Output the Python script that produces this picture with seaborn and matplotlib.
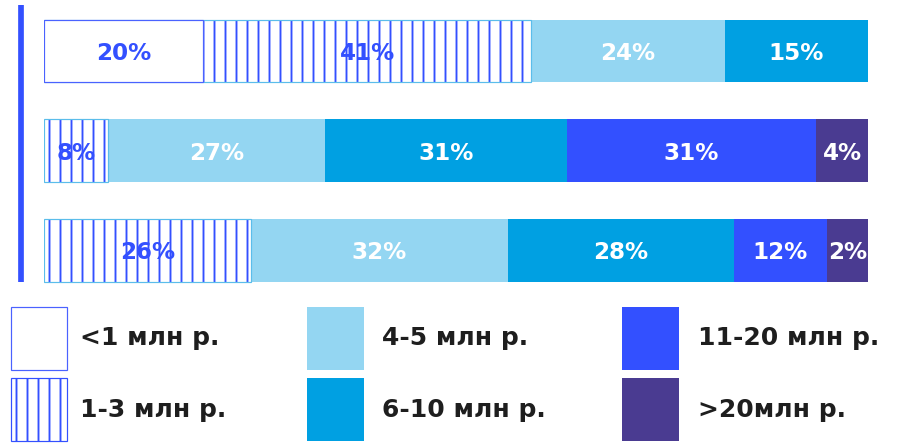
import pandas as pd
import seaborn as sns
import matplotlib as mpl
import matplotlib.pyplot as plt
from matplotlib.patches import Patch

# data
rows = ['Группа 1', 'Группа 2', 'Группа 3']
categories = ['<1 млн р.', '1-3 млн р.', '4-5 млн р.', '6-10 млн р.', '11-20 млн р.', '>20млн р.']
shares_r1 = [19.3, 39.8, 23.5, 17.4, 0.0, 0.0]
shares_r2 = [0.0, 7.7, 26.4, 29.3, 30.3, 6.3]
shares_r3 = [0.0, 25.1, 31.2, 27.4, 11.3, 5.0]
labels_r1 = ['20%', '41%', '24%', '15%', '', '']
labels_r2 = ['', '8%', '27%', '31%', '31%', '4%']
labels_r3 = ['', '26%', '32%', '28%', '12%', '2%']

# colours
BLUE = '#3350FF'
face_colors = ['white', 'white', '#94D6F2', '#00A0E2', BLUE, '#4A3B91']
text_colors = [BLUE, BLUE, 'white', 'white', 'white', 'white']
WHITE_EDGE = '#4A62FF'
HATCH_EDGE = '#5BBDEB'

sns.set_theme(style='white')
DPI = 66  # 6 hatch lines per inch -> 11 px spacing
px = 72 / DPI
mpl.rcParams['font.family'] = ['DejaVu Sans']
mpl.rcParams['hatch.linewidth'] = 1.9 * px

df = pd.DataFrame({
    'row': [r for r in rows for _ in categories],
    'category': categories * len(rows),
    'share': shares_r1 + shares_r2 + shares_r3,
    'label': labels_r1 + labels_r2 + labels_r3,
})
df['cum'] = df.groupby('row')['share'].cumsum()

fig = plt.figure(figsize=(902 / DPI, 443 / DPI), dpi=DPI)
ax = fig.add_axes([44.3 / 902, 1 - 300.1 / 443, 823.7 / 902, 298.7 / 443])

BAR_W = 0.628
# stacked bars by overdrawing cumulative totals, last category first
for i in reversed(range(len(categories))):
    cat = categories[i]
    sub = df[(df['category'] == cat) & (df['share'] > 0)]
    if sub.empty:
        continue
    common = dict(data=sub, x='cum', y='row', order=rows, orient='y',
                  width=BAR_W, saturation=1, errorbar=None, ax=ax)
    if i == 1:
        sns.barplot(**common, color='white', edgecolor=BLUE, linewidth=0, hatch='|')
        sns.barplot(**common, color='white', facecolor='none',
                    edgecolor=HATCH_EDGE, linewidth=1.2 * px)
    elif i == 0:
        sns.barplot(**common, color='white', edgecolor=WHITE_EDGE, linewidth=1.2 * px)
    else:
        sns.barplot(**common, color=face_colors[i], linewidth=0)

# value labels
LABEL_FS = 23.0 * px
for _, r in df[df['label'] != ''].iterrows():
    ci = categories.index(r['category'])
    ax.text(r['cum'] - r['share'] / 2, rows.index(r['row']), r['label'],
            ha='center', va='center_baseline', color=text_colors[ci],
            fontsize=LABEL_FS, fontweight='bold')

ax.set_xlim(0, 100)
ax.set_ylim(len(rows) - 0.5, -0.5)
ax.set_xlabel('')
ax.set_ylabel('')
ax.set_xticks([])
ax.set_yticks([])
for s in ax.spines.values():
    s.set_visible(False)

# left accent line
ax.plot([-0.028, -0.028], [-0.464, 2.315], transform=ax.get_yaxis_transform(),
        color=BLUE, lw=5.7 * px, solid_capstyle='butt', clip_on=False)

# legend: three columns of two
handles = [
    Patch(facecolor='white', edgecolor=WHITE_EDGE, linewidth=1.2 * px),
    Patch(facecolor='white', edgecolor=BLUE, linewidth=1.2 * px, hatch='|'),
    Patch(facecolor=face_colors[2], linewidth=0),
    Patch(facecolor=face_colors[3], linewidth=0),
    Patch(facecolor=face_colors[4], linewidth=0),
    Patch(facecolor=face_colors[5], linewidth=0),
]
LEG_FS = 25.0 * px
fs_px = LEG_FS / px
box_h = 63.0
hh = (box_h / fs_px - 0.245) / 0.65
col_x = [11, 307, 622]
pads = [13, 18, 20]
for c in range(3):
    fig.legend(handles[2 * c:2 * c + 2], categories[2 * c:2 * c + 2],
               loc='upper left', bbox_to_anchor=(col_x[c] / 902, 1 - 307 / 443),
               frameon=False, borderpad=0, borderaxespad=0,
               handlelength=56.5 / fs_px, handleheight=hh,
               handletextpad=pads[c] / fs_px, labelspacing=8 / fs_px,
               prop={'size': LEG_FS, 'weight': 'bold'}, labelcolor='#1E1E1E')

fig.savefig('out.png', dpi=DPI)
